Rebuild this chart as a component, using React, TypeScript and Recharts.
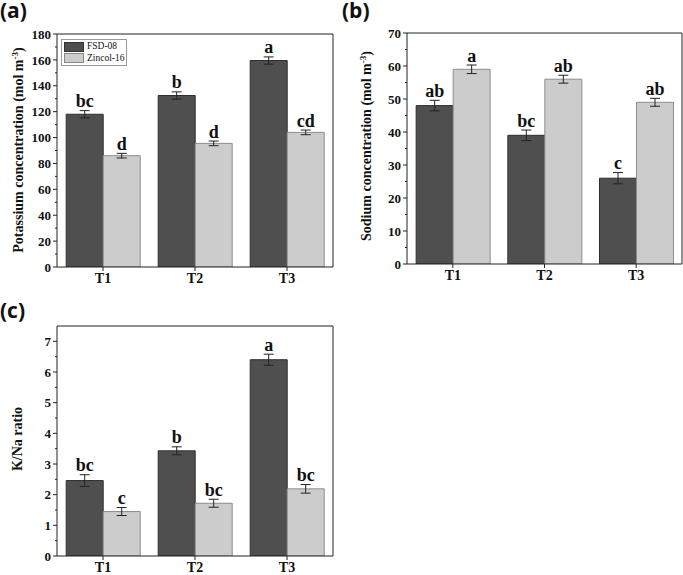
import React from 'react';
import { BarChart, Bar, XAxis, YAxis, ErrorBar, LabelList } from 'recharts';

const categories = ['T1', 'T2', 'T3'];
const seriesNames = ['FSD-08', 'Zincol-16'];

// (a) potassium
const kFsd = [118, 132.5, 159.5];
const kFsdErr = [2.8, 2.8, 2.8];
const kZin = [86, 95.5, 104];
const kZinErr = [1.8, 1.8, 1.8];
const kFsdLetters = ['bc', 'b', 'a'];
const kZinLetters = ['d', 'd', 'cd'];
const kTicks = [0, 20, 40, 60, 80, 100, 120, 140, 160, 180];
const kMinor = [10, 30, 50, 70, 90, 110, 130, 150, 170];

// (b) sodium
const naFsd = [48, 39, 26];
const naFsdErr = [1.6, 1.6, 1.7];
const naZin = [59, 56, 49];
const naZinErr = [1.3, 1.2, 1.2];
const naFsdLetters = ['ab', 'bc', 'c'];
const naZinLetters = ['a', 'ab', 'ab'];
const naTicks = [0, 10, 20, 30, 40, 50, 60, 70];
const naMinor = [5, 15, 25, 35, 45, 55, 65];

// (c) K/Na ratio
const rFsd = [2.46, 3.43, 6.4];
const rFsdErr = [0.19, 0.13, 0.18];
const rZin = [1.45, 1.72, 2.19];
const rZinErr = [0.13, 0.13, 0.14];
const rFsdLetters = ['bc', 'b', 'a'];
const rZinLetters = ['c', 'bc', 'bc'];
const rTicks = [0, 1, 2, 3, 4, 5, 6, 7];
const rMinor = [0.5, 1.5, 2.5, 3.5, 4.5, 5.5, 6.5];

const serif = '"Liberation Serif", "Times New Roman", serif';
const sans = '"Open Sans", "Liberation Sans", sans-serif';
const DARK = '#4f4f4f';
const LIGHT = '#cccccc';
const AXIS = '#222';

const buildRows = (a: number[], aErr: number[], b: number[], bErr: number[]) =>
  categories.map((cat, i) => ({ cat, a: a[i], aErr: aErr[i], b: b[i], bErr: bErr[i] }));

const letterContent = (letters: string[], errs: number[]) => (props: any) => {
  const { x, y, width, height, value, index } = props;
  const scale = value ? height / value : 0;
  const ty = y - errs[index] * scale - 3.5;
  return (
    <text x={x + width / 2} y={ty} textAnchor="middle" fontFamily={serif} fontWeight="bold" fontSize={18} fill="#111">
      {letters[index]}
    </text>
  );
};

const minorTick = (props: any) => {
  const { x, y } = props;
  return <line x1={x} x2={x - 2} y1={y} y2={y} stroke={AXIS} strokeWidth={1} />;
};

type PanelProps = {
  left: number;
  top: number;
  width: number;
  height: number;
  margin: { top: number; right: number; bottom: number; left: number };
  yWidth: number;
  xHeight: number;
  domain: [number, number];
  ticks: number[];
  minor: number[];
  rows: any[];
  aLetters: string[];
  bLetters: string[];
  aErr: number[];
  bErr: number[];
  yLabel: React.ReactNode;
};

function Panel(p: PanelProps) {
  return (
    <div style={{ position: 'absolute', left: p.left, top: p.top }}>
      <BarChart width={p.width} height={p.height} data={p.rows} margin={p.margin} barCategoryGap="10%" barGap={0}>
        <XAxis dataKey="cat" height={p.xHeight} stroke={AXIS} tickLine={{ stroke: AXIS }} tickSize={4}
          tick={{ fontFamily: serif, fontWeight: 'bold', fontSize: 14, fill: '#111' }} />
        <XAxis xAxisId="top" dataKey="cat" orientation="top" height={1} tick={false} tickLine={false} stroke={AXIS} />
        <YAxis width={p.yWidth} domain={p.domain} ticks={p.ticks} interval={0} type="number" allowDataOverflow
          stroke={AXIS} tickLine={{ stroke: AXIS }} tickSize={4} tickMargin={2}
          tick={{ fontFamily: serif, fontWeight: 'bold', fontSize: 13, fill: '#111' }} label={() => p.yLabel} />
        <YAxis yAxisId="minor" mirror domain={p.domain} ticks={p.minor} interval={0} type="number" allowDataOverflow
          axisLine={false} tickLine={false} tickSize={0} tickMargin={0} tick={minorTick} />
        <YAxis yAxisId="right" orientation="right" width={1} tick={false} tickLine={false} stroke={AXIS} />
        <Bar dataKey="a" name={seriesNames[0]} fill={DARK} stroke="#2e2e2e" strokeWidth={1} isAnimationActive={false}>
          <ErrorBar dataKey="aErr" width={5} stroke="#222" strokeWidth={1} direction="y" />
          <LabelList dataKey="a" content={letterContent(p.aLetters, p.aErr)} />
        </Bar>
        <Bar dataKey="b" name={seriesNames[1]} fill={LIGHT} stroke="#8c8c8c" strokeWidth={1} isAnimationActive={false}>
          <ErrorBar dataKey="bErr" width={5} stroke="#222" strokeWidth={1} direction="y" />
          <LabelList dataKey="b" content={letterContent(p.bLetters, p.bErr)} />
        </Bar>
      </BarChart>
    </div>
  );
}

const yLabelText = (x: number, y: number, main: string, unit: boolean) => (
  <text transform={`rotate(-90, ${x}, ${y})`} x={x} y={y} textAnchor="middle" fontFamily={serif} fontWeight="bold" fontSize={14} fill="#111">
    {main}
    {unit && (
      <>
        <tspan> (mol m</tspan>
        <tspan dy={-5} fontSize={9}>-3</tspan>
        <tspan dy={5}>)</tspan>
      </>
    )}
  </text>
);

const tag = (text: string, left: number, top: number) => (
  <div style={{ position: 'absolute', left, top, fontFamily: sans, fontWeight: 'bold', fontSize: 21, lineHeight: '19px', color: '#111' }}>
    {text}
  </div>
);

function SeriesLegend() {
  const swatches = [
    { fill: DARK, border: '#333' },
    { fill: LIGHT, border: '#888' },
  ];
  return (
    <div style={{ position: 'absolute', left: 61, top: 39, border: '1px solid #999', background: '#fff', padding: '1px 2px',
      fontFamily: serif, fontSize: 9.5, lineHeight: '11px', color: '#111' }}>
      {seriesNames.map((name, i) => (
        <div key={name} style={{ display: 'flex', alignItems: 'center', height: 11.5 }}>
          <span style={{ display: 'inline-block', width: 20, height: 10, background: swatches[i].fill,
            border: `1px solid ${swatches[i].border}`, marginRight: 3, boxSizing: 'border-box' }} />
          {name}
        </div>
      ))}
    </div>
  );
}

export default function App() {
  return (
    <div style={{ position: 'absolute', left: 0, top: 0, width: 683, height: 575, background: '#fff', overflow: 'hidden' }}>
      <Panel left={0} top={0} width={340} height={290}
        margin={{ top: 33, right: 6, bottom: 0, left: 0 }} yWidth={57} xHeight={23}
        domain={[0, 180]} ticks={kTicks} minor={kMinor}
        rows={buildRows(kFsd, kFsdErr, kZin, kZinErr)}
        aLetters={kFsdLetters} bLetters={kZinLetters} aErr={kFsdErr} bErr={kZinErr}
        yLabel={yLabelText(23, 150, 'Potassium concentration', true)} />
      <Panel left={340} top={0} width={343} height={290}
        margin={{ top: 32, right: 0, bottom: 0, left: 0 }} yWidth={67} xHeight={26}
        domain={[0, 70]} ticks={naTicks} minor={naMinor}
        rows={buildRows(naFsd, naFsdErr, naZin, naZinErr)}
        aLetters={naFsdLetters} bLetters={naZinLetters} aErr={naFsdErr} bErr={naZinErr}
        yLabel={yLabelText(31, 146, 'Sodium concentration', true)} />
      <Panel left={0} top={290} width={340} height={285}
        margin={{ top: 35, right: 6, bottom: 0, left: 0 }} yWidth={57} xHeight={19}
        domain={[0, 7.5]} ticks={rTicks} minor={rMinor}
        rows={buildRows(rFsd, rFsdErr, rZin, rZinErr)}
        aLetters={rFsdLetters} bLetters={rZinLetters} aErr={rFsdErr} bErr={rZinErr}
        yLabel={yLabelText(22, 149, 'K/Na ratio', false)} />
      <SeriesLegend />
      {tag('(a)', 0, 1)}
      {tag('(b)', 342, 1)}
      {tag('(c)', 0, 301)}
    </div>
  );
}
